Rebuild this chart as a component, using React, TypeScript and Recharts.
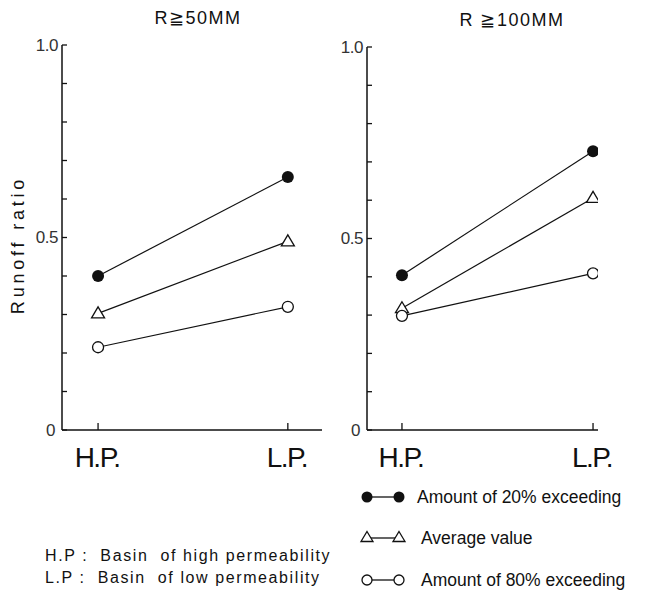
import { LineChart, Line, XAxis, YAxis } from "recharts";

const CATEGORIES = ["H.P.", "L.P."];
const SERIES_NAMES = ["Amount of 20% exceeding", "Average value", "Amount of 80% exceeding"];

// R >= 50MM panel
const LEFT_20 = [0.4, 0.657];
const LEFT_AVG = [0.303, 0.49];
const LEFT_80 = [0.215, 0.32];

// R >= 100MM panel
const RIGHT_20 = [0.404, 0.728];
const RIGHT_AVG = [0.318, 0.606];
const RIGHT_80 = [0.298, 0.409];

const Y_TICKS = [0, 0.1, 0.2, 0.3, 0.4, 0.5, 0.6, 0.7, 0.8, 0.9, 1.0];
const Y_LABELED = [0, 0.5, 1.0];

const FONT = "'Liberation Sans', Arial, sans-serif";
const INK = "#111";

const buildRows = (s20: number[], avg: number[], s80: number[]) =>
  CATEGORIES.map((_, i) => ({ x: i, s20: s20[i], avg: avg[i], s80: s80[i] }));

const filledDot = (p: any) => (
  <circle key={`f${p.index}`} cx={p.cx} cy={p.cy} r={6} fill={INK} />
);
const triangleDot = (p: any) => (
  <path
    key={`t${p.index}`}
    d={`M${p.cx},${p.cy - 6.5} L${p.cx + 6.5},${p.cy + 4.5} L${p.cx - 6.5},${p.cy + 4.5} Z`}
    fill="#fff"
    stroke={INK}
    strokeWidth={1.3}
  />
);
const openDot = (p: any) => (
  <circle key={`o${p.index}`} cx={p.cx} cy={p.cy} r={5.5} fill="#fff" stroke={INK} strokeWidth={1.3} />
);

const YTick = (p: any) => {
  const v = p.payload.value;
  const labeled = Y_LABELED.some((l) => Math.abs(l - v) < 1e-6);
  return (
    <g>
      <line x1={p.x} y1={p.y} x2={p.x + 5} y2={p.y} stroke={INK} strokeWidth={1.3} />
      {labeled && (
        <text
          x={p.x - (v === 0 ? 7 : 4)}
          y={p.y}
          textAnchor="end"
          dominantBaseline="central"
          fontSize={17}
          letterSpacing={-0.5}
          fontFamily={FONT}
          fill="#333"
        >
          {v === 0 ? "0" : v.toFixed(1)}
        </text>
      )}
    </g>
  );
};

const XTick = (p: any) => (
  <g>
    <line x1={p.x} y1={p.y} x2={p.x} y2={p.y - 7} stroke={INK} strokeWidth={1.3} />
    <text
      x={p.x - 1}
      y={p.y + 37}
      textAnchor="middle"
      fontSize={28}
      letterSpacing={-1.5}
      fontFamily={FONT}
      fill={INK}
    >
      {CATEGORIES[p.payload.value]}
    </text>
  </g>
);

function Panel({ rows, width, height, margin, yWidth, xDomain }: any) {
  return (
    <LineChart width={width} height={height} data={rows} margin={margin}>
      <XAxis
        type="number"
        dataKey="x"
        domain={xDomain}
        ticks={[0, 1]}
        allowDataOverflow
        height={height - 430}
        tickSize={0}
        tickMargin={0}
        tickLine={false}
        tick={<XTick />}
        axisLine={{ stroke: INK, strokeWidth: 1.5 }}
      />
      <YAxis
        type="number"
        domain={[0, 1]}
        ticks={Y_TICKS}
        width={yWidth}
        tickSize={0}
        tickMargin={0}
        tickLine={false}
        tick={<YTick />}
        axisLine={{ stroke: INK, strokeWidth: 1.5 }}
      />
      <Line dataKey="s20" stroke={INK} strokeWidth={1.2} dot={filledDot} isAnimationActive={false} />
      <Line dataKey="avg" stroke={INK} strokeWidth={1.2} dot={triangleDot} isAnimationActive={false} />
      <Line dataKey="s80" stroke={INK} strokeWidth={1.2} dot={openDot} isAnimationActive={false} />
    </LineChart>
  );
}

const legendMarker = (i: number, x: number) => {
  if (i === 0) return <circle cx={x} cy={8} r={5.5} fill={INK} />;
  if (i === 1)
    return <path d={`M${x},${1.5} L${x + 6},${11.5} L${x - 6},${11.5} Z`} fill="#fff" stroke={INK} strokeWidth={1.3} />;
  return <circle cx={x} cy={8} r={5} fill="#fff" stroke={INK} strokeWidth={1.3} />;
};

const LEGEND_TOPS = [489, 530, 572];

export default function App() {
  return (
    <div style={{ position: "absolute", left: 0, top: 0, width: 647, height: 591, background: "#fff", fontFamily: FONT, color: INK }}>
      <div style={{ position: "absolute", left: 0, top: 0 }}>
        <Panel
          rows={buildRows(LEFT_20, LEFT_AVG, LEFT_80)}
          width={335}
          height={500}
          margin={{ top: 45, right: 13, left: 0, bottom: 0 }}
          yWidth={62}
          xDomain={[-0.19, 1.18]}
        />
      </div>
      <div style={{ position: "absolute", left: 335, top: 0 }}>
        <Panel
          rows={buildRows(RIGHT_20, RIGHT_AVG, RIGHT_80)}
          width={312}
          height={500}
          margin={{ top: 47, right: 49, left: 0, bottom: 0 }}
          yWidth={32}
          xDomain={[-0.183, 1.026]}
        />
      </div>

      <div style={{ position: "absolute", left: 143, top: 7, width: 110, textAlign: "center", fontSize: 18, letterSpacing: 1.5 }}>
        R≧50MM
      </div>
      <div style={{ position: "absolute", left: 452, top: 9, width: 120, textAlign: "center", fontSize: 18, letterSpacing: 1.5 }}>
        R ≧100MM
      </div>

      <div
        style={{
          position: "absolute",
          left: 18,
          top: 245,
          transform: "translate(-50%, -50%) rotate(-90deg)",
          fontSize: 18,
          letterSpacing: 3.8,
          whiteSpace: "nowrap",
        }}
      >
        Runoff ratio
      </div>

      {SERIES_NAMES.map((name, i) => (
        <div key={name} style={{ position: "absolute", left: 358, top: LEGEND_TOPS[i], height: 16, display: "flex", alignItems: "center" }}>
          <svg width={52} height={16}>
            <line x1={9} y1={8} x2={41} y2={8} stroke={INK} strokeWidth={1.3} />
            {legendMarker(i, 9)}
            {legendMarker(i, 41)}
          </svg>
          <span style={{ marginLeft: i === 0 ? 7 : 11, fontSize: 17.5, whiteSpace: "nowrap" }}>{name}</span>
        </div>
      ))}

      <div style={{ position: "absolute", left: 45, top: 545, fontSize: 16, letterSpacing: 1.6, lineHeight: "22px", whiteSpace: "pre" }}>
        {"H.P :  Basin  of high permeability\nL.P :  Basin  of low permeability"}
      </div>
    </div>
  );
}
